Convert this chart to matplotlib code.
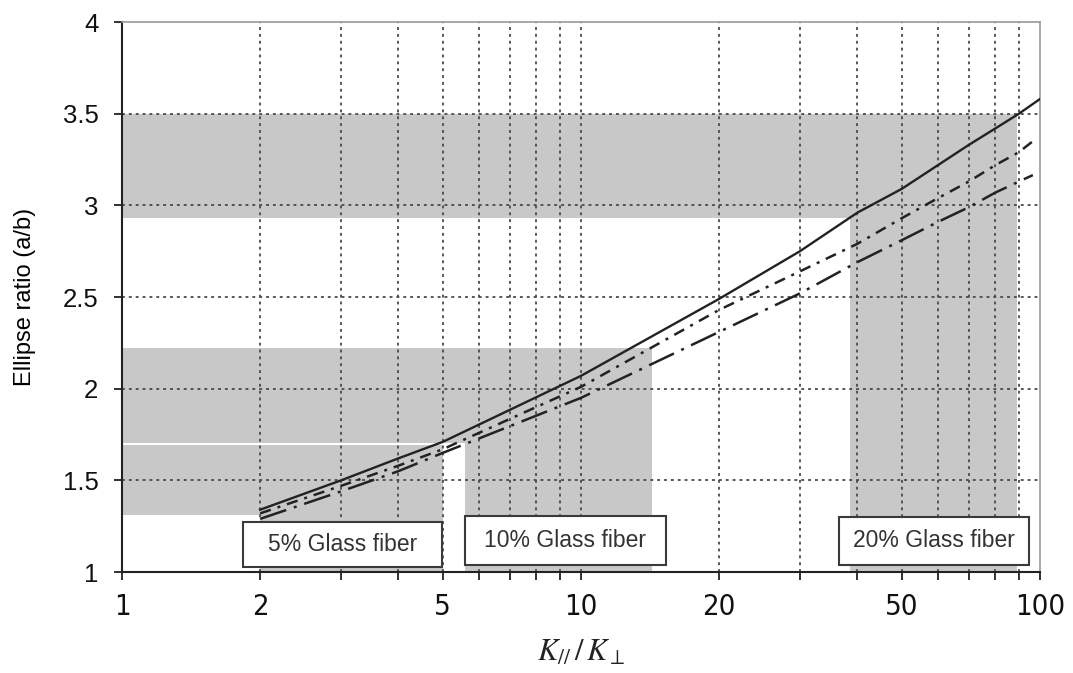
import numpy as np
import matplotlib.pyplot as plt
from matplotlib.patches import Rectangle
from matplotlib.ticker import FixedLocator, NullFormatter

# K_par / K_perp and ellipse ratio curves
k_ratio = [2, 3, 4, 5, 10, 20, 30, 40, 50, 60, 70, 80, 90, 100]
ratio_solid = [1.34, 1.50, 1.62, 1.71, 2.07, 2.49, 2.75, 2.96, 3.09, 3.22, 3.33, 3.42, 3.50, 3.58]

k_ratio_short = [2, 3, 4, 5, 10, 20, 30, 40, 50, 60, 70, 80, 90, 96.5]
ratio_dashdot = [1.32, 1.47, 1.58, 1.67, 2.01, 2.43, 2.64, 2.79, 2.93, 3.04, 3.13, 3.22, 3.29, 3.35]
ratio_longdash = [1.29, 1.44, 1.55, 1.65, 1.95, 2.31, 2.52, 2.69, 2.81, 2.91, 2.99, 3.07, 3.13, 3.165]

# shaded ranges: (x0, x1, y0, y1)
zone_5 = [(1, 5, 1.31, 1.695), (2, 5, 1.0, 1.31)]
zone_10 = [(1, 14.3, 1.705, 2.22), (5.6, 14.3, 1.0, 1.705)]
zone_20 = [(1, 89, 2.93, 3.5), (38.6, 89, 1.0, 2.93)]

# label boxes: (text, x0, x1, y0, y1)
boxes = [("5% Glass fiber", 1.835, 4.98, 1.027, 1.275),
         ("10% Glass fiber", 5.59, 15.3, 1.04, 1.305),
         ("20% Glass fiber", 36.5, 94.5, 1.04, 1.30)]

x_major = [1, 2, 5, 10, 20, 50, 100]
x_minor = [3, 4, 6, 7, 8, 9, 30, 40, 60, 70, 80, 90]
y_ticks = [1, 1.5, 2, 2.5, 3, 3.5, 4]

plt.rcParams['font.family'] = ['Liberation Sans', 'DejaVu Sans']
plt.rcParams['mathtext.fontset'] = 'stix'

fig = plt.figure(figsize=(10.73, 6.73), dpi=100)
ax = fig.add_axes([0.1137, 0.15, 0.8555, 0.8173])
ax.set_xscale('log')
ax.set_xlim(1, 100)
ax.set_ylim(1, 4)

gray = '#c8c8c8'
for zone in (zone_5, zone_10, zone_20):
    for x0, x1, y0, y1 in zone:
        ax.add_patch(Rectangle((x0, y0), x1 - x0, y1 - y0, facecolor=gray,
                               edgecolor='none', zorder=0.5))

# grid
gcol = '#4a4a4a'
gstyle = (0, (1.6, 2.2))
for xv in [2, 3, 4, 5, 6, 7, 8, 9, 10, 20, 30, 40, 50, 60, 70, 80, 90]:
    ax.axvline(xv, color=gcol, lw=1.3, linestyle=gstyle, zorder=1)
for yv in [1.5, 2, 2.5, 3, 3.5]:
    ax.axhline(yv, color=gcol, lw=1.3, linestyle=gstyle, zorder=1)

# curves
ax.plot(k_ratio, ratio_solid, color='#222222', lw=1.7, zorder=3)
ax.plot(k_ratio_short, ratio_dashdot, color='#222222', lw=1.8,
        linestyle=(0, (4.5, 2.8, 1.2, 2.8)), zorder=3)
ax.plot(k_ratio_short, ratio_longdash, color='#222222', lw=1.8,
        linestyle=(0, (11, 3.2, 1.2, 3.2)), zorder=3)

# label boxes
for txt, x0, x1, y0, y1 in boxes:
    ax.add_patch(Rectangle((x0, y0), x1 - x0, y1 - y0, facecolor='white',
                           edgecolor='#3a3a3a', lw=1.5, zorder=4))
    xc = np.sqrt(x0 * x1)
    ax.text(xc, (y0 + y1) / 2, txt, ha='center', va='center', fontsize=16.5,
            color='#333333', zorder=5)

# axes styling
for s in ['left', 'bottom']:
    ax.spines[s].set_color('#222222')
    ax.spines[s].set_linewidth(1.5)
for s in ['top', 'right']:
    ax.spines[s].set_color('#9a9a9a')
    ax.spines[s].set_linewidth(1.2)

ax.xaxis.set_major_locator(FixedLocator(x_major))
ax.xaxis.set_minor_locator(FixedLocator(x_minor))
ax.xaxis.set_minor_formatter(NullFormatter())
ax.set_xticklabels([str(v) for v in x_major])
ax.set_yticks(y_ticks)
ax.set_yticklabels(['1', '1.5', '2', '2.5', '3', '3.5', '4'])

ax.tick_params(axis='x', which='both', direction='out', length=6, width=1.3,
               color='#222222', pad=9)
ax.tick_params(axis='y', direction='out', length=6, width=1.3, color='#222222',
               pad=11, labelsize=18.5, labelcolor='#111111')
for lab in ax.get_xticklabels():
    lab.set_family('DejaVu Sans')
    lab.set_stretch('condensed')
    lab.set_fontsize(21)
    lab.set_color('#111111')

ax.set_ylabel('Ellipse ratio (a/b)', fontsize=17, labelpad=19)
ax.set_xlabel(r'$K_{//}\,/\,K_{\perp}$', fontsize=22, labelpad=12, color='#222222')

fig.savefig('out.png', dpi=100)
